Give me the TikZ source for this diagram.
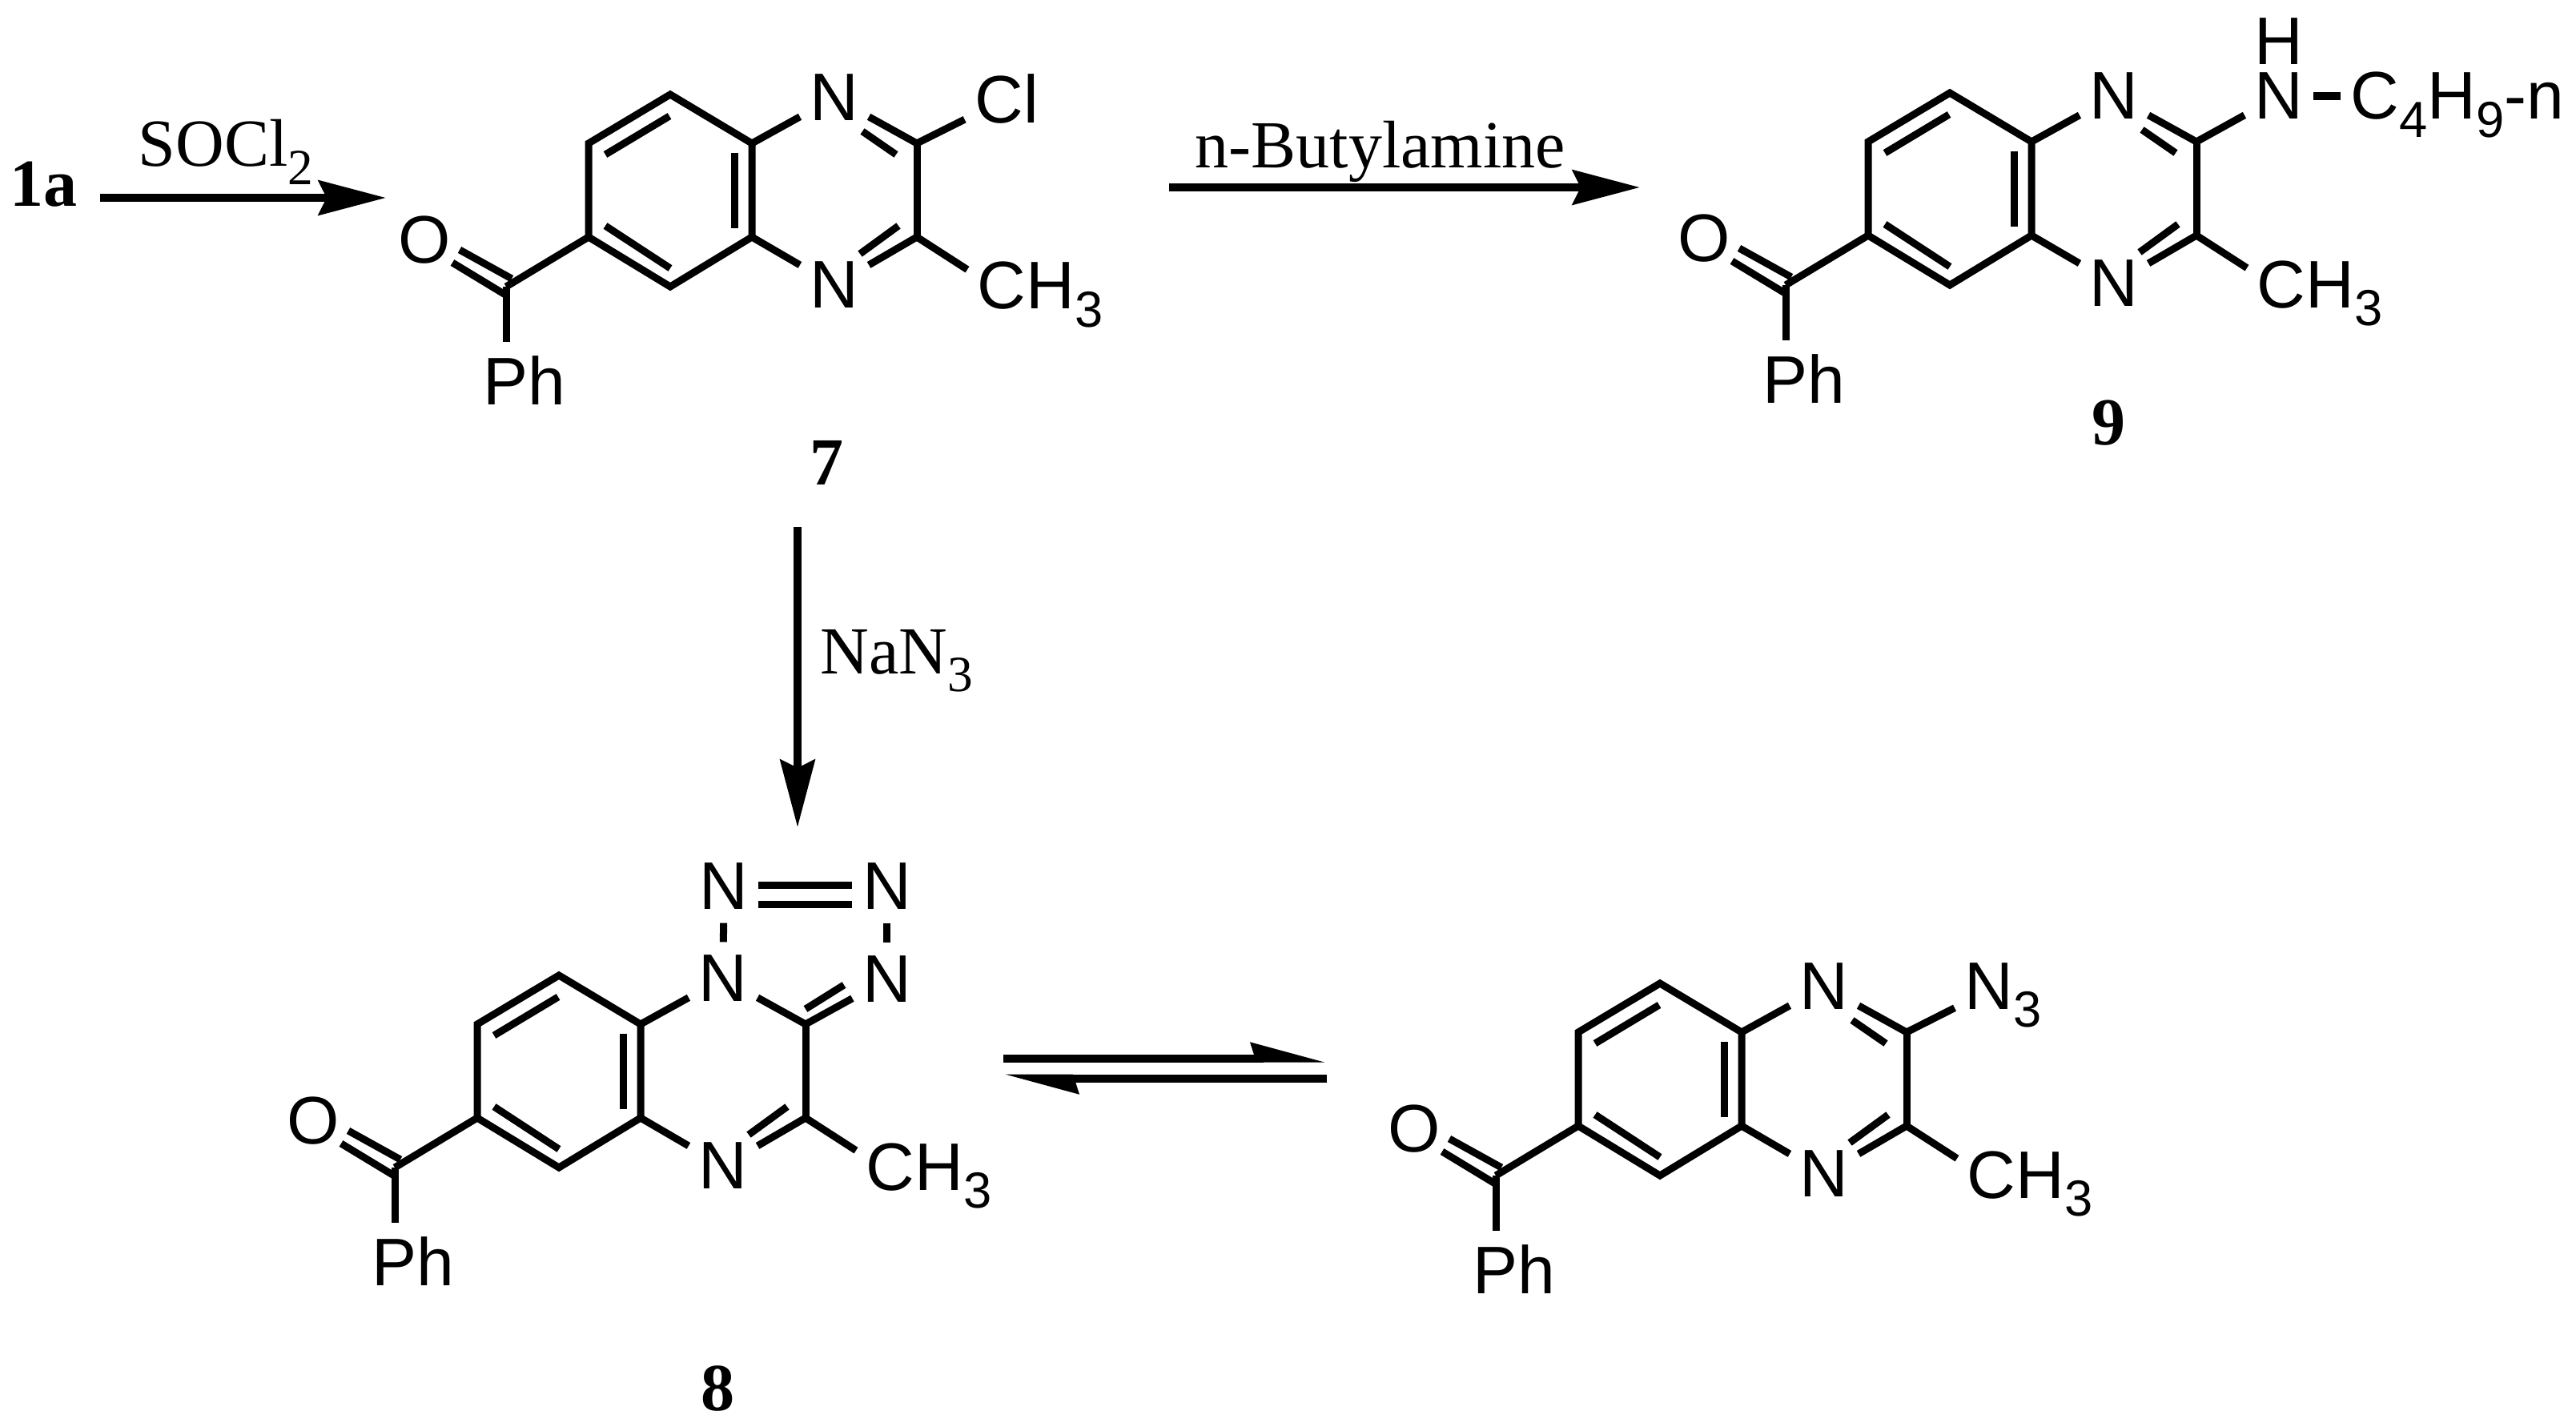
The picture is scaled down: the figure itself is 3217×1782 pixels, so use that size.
\documentclass[tikz,border=0pt]{standalone}
\usepackage{fontspec}
\setmainfont{Liberation Serif}
\setsansfont{Liberation Sans}
\usetikzlibrary{arrows.meta}
\newcommand{\subtxt}[1]{\raisebox{-0.22cm}{\fontsize{18}{18}\selectfont #1}}
\newcommand{\quinox}[4]{
    \begin{scope}[shift={(#2,#3)}, name prefix=#1-]
    \coordinate (c4a) at (939,296);
    \coordinate (c5) at (837,358);
    \coordinate (c6) at (735,296);
    \coordinate (c7) at (735,179);
    \coordinate (c8) at (837,118);
    \coordinate (c8a) at (939,179);
    \coordinate (c2) at (1145,179);
    \coordinate (c3) at (1145,296);
    \coordinate (co) at (632,358);
    \node[atom] (n1) at (1042,122) {N};
    \node[atom] (n4) at (1042,356) {N};
    \node[atom] (o) at (530,300) {O};
    \node[atom, anchor=base west] (ph) at (591,505) {Ph};
    \node[atom, anchor=base west] (me) at (1208,386) {CH\subtxt{3}};
    \draw[bond] (c4a) -- (c5) -- (c6) -- (c7) -- (c8) -- (c8a) -- cycle;
    \draw[bond] (c8a) -- (n1);
    \draw[bond] (c4a) -- (n4);
    \draw[bond] (c2) -- (c3);
    \draw[bond] (c3) -- (n4);
    \draw[bond] (c3) -- (me.161);
    \draw[bond] (c6) -- (co);
    \draw[bond] (co) -- (co |- ph.north);
    \coordinate (i1) at (756,193);
    \coordinate (i2) at (836,145);
    \coordinate (i3) at (756,282);
    \coordinate (i4) at (837,335);
    \coordinate (i5) at (917.5,191);
    \coordinate (i6) at (917.5,285);
    \coordinate (i7) at (1074,317);
    \coordinate (i8) at (1122,282);
    \coordinate (o1) at (565,328);
    \coordinate (o2) at (631,368);
    \coordinate (o3) at (574,312);
    \coordinate (o4) at (639,348);
    \draw[bond] (i1) -- (i2);
    \draw[bond] (i3) -- (i4);
    \draw[bond] (i5) -- (i6);
    \draw[bond] (i7) -- (i8);
    \draw[bond] (o1) -- (o2);
    \draw[bond] (o3) -- (o4);
    #4
    \end{scope}
}
\newcommand{\ncdouble}{
    \coordinate (i9) at (1077,164);
    \coordinate (i10) at (1119,193);
    \draw[bond] (c2) -- (n1);
    \draw[bond] (i9) -- (i10);
}
\begin{document}
\begin{tikzpicture}[x=0.01cm, y=-0.01cm,
        atom/.style = {font=\fontsize{23.9}{26}\selectfont\sffamily, inner xsep=0.12cm, inner ysep=0.16cm},
        txt/.style = {font=\fontsize{23.9}{26}\selectfont, inner sep=0, anchor=base west},
        num/.style = {font=\fontsize{23.9}{26}\selectfont\bfseries, inner sep=0, anchor=base},
        bond/.style = {line width=0.09cm, line join=miter},
        rxn/.style = {line width=0.1cm, -{Stealth[length=0.84cm, width=0.43cm, inset=0.1cm]}},
        eqm/.style = {line width=0.1cm, -{Stealth[harpoon, length=0.74cm, width=0.38cm, inset=0.05cm]}}]
    \useasboundingbox (0,0) rectangle (3217,1782);
    \quinox{m7}{0}{0}{
        \node[atom] (cl) at (1257,123) {Cl};
        \draw[bond] (c2) -- (cl);
        \ncdouble
    }
    \node[num] (seven) at (1033,605) {7};
    \quinox{m9}{1598}{-2}{
        \node[atom, inner ysep=0] (h) at (1248,54) {H};
        \node[atom, inner ysep=0.02cm] (nh) at (1248,122) {N};
        \node[atom, anchor=base west] (bu) at (1325,151) {C\subtxt{4}H\subtxt{9}-n};
        \draw[bond] (c2) -- (nh);
        \draw[bond, line width=0.1cm] (nh.east) -- (nh.east -| bu.west);
        \ncdouble
    }
    \node[num] (nine) at (2633,555) {9};
    \quinox{m8}{-139}{1100}{
        \node[atom] (na) at (1043,7) {N};
        \node[atom] (nb) at (1246.5,7) {N};
        \node[atom] (nc) at (1246.5,123) {N};
        \coordinate (i9) at (1145,160);
        \coordinate (i10) at (1193,130);
        \draw[bond] (c2) -- (n1);
        \draw[bond] (c2) -- (nc);
        \draw[bond] (i9) -- (i10);
        \draw[bond] (na) -- (n1);
        \draw[bond] (nb) -- (nc);
        \draw[bond] ([yshift=0.02cm]na.east) -- ([yshift=0.02cm]nb.west);
        \draw[bond] ([yshift=-0.22cm]na.east) -- ([yshift=-0.22cm]nb.west);
    }
    \node[num] (eight) at (897,1761) {8};
    \quinox{mz}{1236}{1110}{
        \node[atom, anchor=base west] (az) at (1205,150) {N\subtxt{3}};
        \draw[bond] (c2) -- (az.195);
        \ncdouble
    }
    \node[txt, font=\fontsize{23.9}{26}\selectfont\bfseries] (start) at (12,258) {1a};
    \node[txt] (socl) at (172,208) {SOCl\subtxt{2}};
    \node[txt] (nbu) at (1492,209) {n-Butylamine};
    \node[txt] (azide) at (1024,841) {NaN\subtxt{3}};
    \coordinate (a1) at (125,247);
    \coordinate (a2) at (482,247);
    \coordinate (b1) at (1460,234);
    \coordinate (b2) at (2048,234);
    \coordinate (d1) at (996,658);
    \coordinate (d2) at (996,1033);
    \coordinate (e1) at (1253,1321.5);
    \coordinate (e2) at (1656,1321.5);
    \coordinate (f1) at (1657,1346.5);
    \coordinate (f2) at (1253,1346.5);
    \draw[rxn] (a1) -- (a2);
    \draw[rxn] (b1) -- (b2);
    \draw[rxn] (d1) -- (d2);
    \draw[eqm] (e1) -- (e2);
    \draw[eqm] (f1) -- (f2);
\end{tikzpicture}
\end{document}
